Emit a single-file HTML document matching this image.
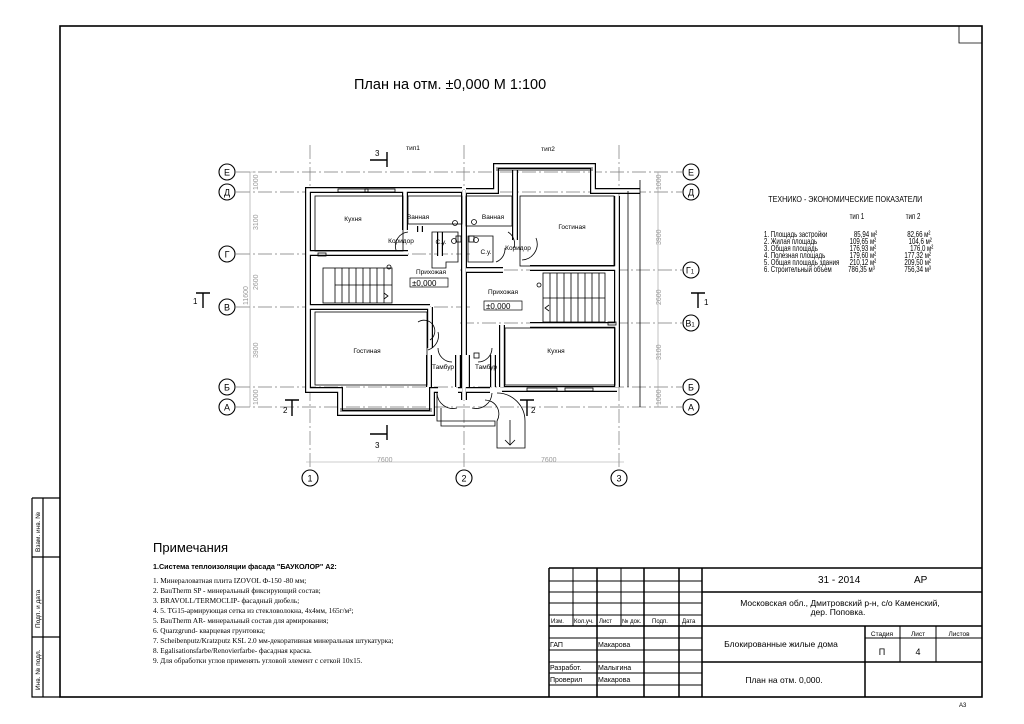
<!DOCTYPE html>
<html><head><meta charset="utf-8">
<style>
html,body{margin:0;padding:0;background:#fff;}
svg{display:block;}
text{font-family:"Liberation Sans",sans-serif;fill:#000;}
.s{font-family:"Liberation Serif",serif;}
.ax{stroke:#777;stroke-width:0.7;stroke-dasharray:14 3 2 3;fill:none;}
.t{stroke:#000;stroke-width:0.8;fill:none;}
.g{stroke:#999;stroke-width:0.6;fill:none;}
.c{fill:#fff;stroke:#000;stroke-width:1.1;}
</style></head><body>
<svg width="1024" height="724" viewBox="0 0 1024 724" xmlns="http://www.w3.org/2000/svg" xmlns:xlink="http://www.w3.org/1999/xlink">
<defs>
<g id="walls">
<path d="M462 190 H308 V390 H340 V413 H432 V390 H438 M462 390 H458"/>
<path d="M466 191 H496 V166 H593 V191 H640 M466 390 H490 M502 389 H617"/>
<path d="M464 190 V400"/>
<path d="M308 253 H408 M308 307 H430 M405 190 V230 M420 226 V232 M440 232 V256 M430 307 V348 M429 355 V387 M458 355 V387"/>
<path d="M515 170 V240 M530 268 H617 M466 270 H503 M530 325 H617 M502 325 V387 M617 196 V387 M493 355 V387 M467 355 V387"/>
</g>
</defs>
<!-- frame -->
<rect x="60" y="26" width="922" height="671" fill="none" stroke="#000" stroke-width="1.6"/>
<path d="M959 26 V43 H982" class="t"/>
<!-- side strip -->
<path d="M32 498 H60 M32 498 V697 H60 M43 498 V697 M32 557 H60 M32 637 H60" fill="none" stroke="#000" stroke-width="1.2"/>
<text font-size="6.5" transform="translate(40,552) rotate(-90)">Взам. инв. №</text>
<text font-size="6.5" transform="translate(40,628) rotate(-90)">Подп. и дата</text>
<text font-size="6.5" transform="translate(40,690) rotate(-90)">Инв. № подл.</text>
<text x="959" y="707" font-size="6">А3</text>

<!-- title -->
<text x="354" y="89" font-size="14.5">План  на отм.  ±0,000   М 1:100</text>

<!-- axes -->
<g class="ax">
<path d="M236 172 H682 M236 192 H682 M236 254 H470 M236 307 H470 M236 387 H682 M236 407 H682"/>
<path d="M460 270 H682 M460 323 H682"/>
<path d="M310 145 V470 M464 145 V470 M619 145 V470"/>
</g>
<path d="M250 172 V407 M244 172 H256 M658 172 V407 M306 462 H624" class="g"/>
<g font-size="7">
<text x="541" y="462" style="fill:#999">7600</text>
<text x="377" y="462" style="fill:#999">7600</text>
<text transform="translate(258,190) rotate(-90)" style="fill:#999">1000</text>
<text transform="translate(258,230) rotate(-90)" style="fill:#999">3100</text>
<text transform="translate(258,290) rotate(-90)" style="fill:#999">2600</text>
<text transform="translate(258,358) rotate(-90)" style="fill:#999">3900</text>
<text transform="translate(258,405) rotate(-90)" style="fill:#999">1000</text>
<text transform="translate(248,305) rotate(-90)" style="fill:#999">11600</text>
<text transform="translate(661,190) rotate(-90)" style="fill:#999">1000</text>
<text transform="translate(661,245) rotate(-90)" style="fill:#999">3900</text>
<text transform="translate(661,305) rotate(-90)" style="fill:#999">2600</text>
<text transform="translate(661,360) rotate(-90)" style="fill:#999">3100</text>
<text transform="translate(661,405) rotate(-90)" style="fill:#999">1000</text>
</g>

<!-- axis bubbles -->
<g font-size="9" text-anchor="middle">
<circle class="c" cx="227" cy="172" r="8"/><text x="227" y="175.5">Е</text>
<circle class="c" cx="227" cy="192" r="8"/><text x="227" y="195.5">Д</text>
<circle class="c" cx="227" cy="254" r="8"/><text x="227" y="257.5">Г</text>
<circle class="c" cx="227" cy="307" r="8"/><text x="227" y="310.5">В</text>
<circle class="c" cx="227" cy="387" r="8"/><text x="227" y="390.5">Б</text>
<circle class="c" cx="227" cy="407" r="8"/><text x="227" y="410.5">А</text>
<circle class="c" cx="691" cy="172" r="8"/><text x="691" y="175.5">Е</text>
<circle class="c" cx="691" cy="192" r="8"/><text x="691" y="195.5">Д</text>
<circle class="c" cx="691" cy="270" r="8"/><text x="690" y="273.5">Г<tspan font-size="6">1</tspan></text>
<circle class="c" cx="691" cy="323" r="8"/><text x="690" y="326.5">В<tspan font-size="6">1</tspan></text>
<circle class="c" cx="691" cy="387" r="8"/><text x="691" y="390.5">Б</text>
<circle class="c" cx="691" cy="407" r="8"/><text x="691" y="410.5">А</text>
<circle class="c" cx="310" cy="478" r="8"/><text x="310" y="481.5">1</text>
<circle class="c" cx="464" cy="478" r="8"/><text x="464" y="481.5">2</text>
<circle class="c" cx="619" cy="478" r="8"/><text x="619" y="481.5">3</text>
</g>

<!-- walls -->
<use xlink:href="#walls" href="#walls" fill="none" stroke="#000" stroke-width="6"/>
<use xlink:href="#walls" href="#walls" fill="none" stroke="#fff" stroke-width="3.6"/>

<g class="t" stroke-width="1.2">
<path d="M640 180 V407 M628 191 V387"/>
<rect x="315" y="196" width="88" height="55"/>
<rect x="315" y="312" width="112" height="73"/>
<rect x="520" y="196" width="94" height="70"/>
<rect x="505" y="328" width="110" height="57"/>
<rect x="408" y="196" width="54" height="28"/>
<rect x="466" y="196" width="46" height="30"/>
<path d="M432 232 H458 V262 H446 V268 H432 Z"/>
<path d="M468 236 H493 V262 H468 Z"/>
<path d="M340 409 H432 M340 411 H432 M496 170 H593 M496 168 H593"/>
<rect x="338" y="189" width="30" height="3"/><rect x="365" y="189" width="30" height="3"/>
<rect x="565" y="388" width="28" height="3"/><rect x="527" y="388" width="30" height="3"/>
<rect x="323" y="268" width="69" height="35"/>
<path d="M335 268 V303 M342 268 V303 M349 268 V303 M356 268 V303 M363 268 V303 M370 268 V303 M377 268 V303 M384 268 V303 M335 285 H392 M384 293 L388 296 L384 299"/>
<circle cx="389" cy="267" r="2"/>
<rect x="543" y="273" width="62" height="49"/>
<path d="M550 273 V322 M557 273 V322 M564 273 V322 M571 273 V322 M578 273 V322 M585 273 V322 M592 273 V322 M599 273 V322 M543 298 H605 M549 305 L545 308 L549 311"/>
<circle cx="539" cy="285" r="2"/>
<rect x="608" y="322" width="8" height="3"/>
<rect x="318" y="253" width="8" height="3"/>
<path d="M408 232 A14 14 0 0 0 396 250 M438 332 A15 15 0 0 1 428 350 M430 340 A10 10 0 0 0 418 322 M438 348 A14 14 0 0 0 452 362 M492 348 A14 14 0 0 1 478 362 M508 232 A14 14 0 0 1 514 248 M505 248 A14 14 0 0 1 496 262 M522 260 A16 16 0 0 0 536 238 M437 393 A16 16 0 0 0 457 408 M492 393 A16 16 0 0 1 472 408"/>
<path d="M437 393 V421 H495 V426 H441 V408 M497 393 A28 28 0 0 1 525 421 V448 H497 V421 A14 14 0 0 0 485 400 M505 440 L510 445 L515 440 M510 420 V445"/>
<circle cx="455" cy="223" r="2.5"/><circle cx="474" cy="222" r="2.5"/><circle cx="454" cy="241" r="2.5"/><circle cx="476" cy="240" r="2.5"/>
<rect x="456" y="236" width="5" height="6"/><rect x="469" y="236" width="5" height="6"/>
<rect x="474" y="353" width="5" height="5"/>
</g>

<!-- room labels -->
<g font-size="6.5" text-anchor="middle">
<text x="353" y="221">Кухня</text>
<text x="418" y="219">Ванная</text>
<text x="493" y="219">Ванная</text>
<text x="572" y="229">Гостиная</text>
<text x="401" y="243">Коридор</text>
<text x="441" y="244">С.у.</text>
<text x="486" y="254">С.у.</text>
<text x="518" y="250">Коридор</text>
<text x="431" y="274">Прихожая</text>
<text x="503" y="294">Прихожая</text>
<text x="367" y="353">Гостиная</text>
<text x="556" y="353">Кухня</text>
<text x="443" y="369">Тамбур</text>
<text x="486" y="369">Тамбур</text>
</g>
<g font-size="8">
<rect x="410" y="278" width="38" height="9" fill="none" stroke="#000" stroke-width="0.7"/>
<text x="412" y="286">±0,000</text>
<rect x="484" y="301" width="38" height="9" fill="none" stroke="#000" stroke-width="0.7"/>
<text x="486" y="309">±0,000</text>
</g>
<g font-size="6.5" text-anchor="middle"><text x="413" y="150">тип1</text><text x="548" y="151">тип2</text></g>

<g stroke="#000" stroke-width="1.4" fill="none">
<path d="M387 152 V167 M370 160 H387"/><path d="M387 425 V440 M370 434 H387"/>
<path d="M196 293 H210 M203 293 V308"/><path d="M691 293 H705 M698 293 V308"/>
<path d="M285 400 H299 M292 400 V416"/><path d="M520 400 H534 M527 400 V416"/>
</g>
<g font-size="8"><text x="375" y="156">3</text><text x="375" y="448">3</text><text x="193" y="304">1</text><text x="704" y="305">1</text><text x="283" y="413">2</text><text x="531" y="413">2</text></g>

<!-- TEP table -->
<g font-size="8.5" transform="scale(0.72,1)">
<text x="1067" y="202" textLength="214" lengthAdjust="spacingAndGlyphs">ТЕХНИКО - ЭКОНОМИЧЕСКИЕ ПОКАЗАТЕЛИ</text>
<text x="1180" y="219">тип 1</text><text x="1258" y="219">тип 2</text>
<text x="1061" y="237">1. Площадь застройки</text><text x="1186" y="237">85,94 м²</text><text x="1260" y="237">82,66 м²</text>
<text x="1061" y="244">2. Жилая площадь</text><text x="1180" y="244">109,65 м²</text><text x="1262" y="244">104,6 м²</text>
<text x="1061" y="251">3. Общая площадь</text><text x="1180" y="251">176,93 м²</text><text x="1264" y="251">176,0 м²</text>
<text x="1061" y="258">4. Полезная площадь</text><text x="1180" y="258">179,60 м²</text><text x="1256" y="258">177,32 м²</text>
<text x="1061" y="265">5. Общая площадь здания</text><text x="1180" y="265">210,12 м²</text><text x="1256" y="265">209,50 м²</text>
<text x="1061" y="272">6. Строительный объем</text><text x="1178" y="272">786,35 м³</text><text x="1256" y="272">756,34 м³</text>
</g>

<!-- notes -->
<text x="153" y="552" font-size="13">Примечания</text>
<text x="153" y="569" font-size="7.2" font-weight="bold">1.Система теплоизоляции фасада "БАУКОЛОР" А2:</text>
<g font-size="7.3">
<text class="s" x="153" y="583">1. Минераловатная плита IZOVOL Ф-150   -80 мм;</text>
<text class="s" x="153" y="593">2. BauTherm SP -  минеральный фиксирующий состав;</text>
<text class="s" x="153" y="603">3. BRAVOLL/TERMOCLIP- фасадный дюбель;</text>
<text class="s" x="153" y="613">4. 5. TG15-армирующая сетка из стекловолокна, 4х4мм, 165г/м²;</text>
<text class="s" x="153" y="623">5. BauTherm AR- минеральный состав для армирования;</text>
<text class="s" x="153" y="633">6. Quarzgrund- кварцевая грунтовка;</text>
<text class="s" x="153" y="643">7. Scheibenputz/Kratzputz KSL 2.0 мм-декоративная минеральная штукатурка;</text>
<text class="s" x="153" y="653">8. Egalisationsfarbe/Renovierfarbe- фасадная краска.</text>
<text class="s" x="153" y="663">9. Для обработки углов применять угловой элемент с сеткой 10х15.</text>
</g>

<!-- title block -->
<g fill="none" stroke="#000">
<path stroke-width="1.5" d="M549 568 H982 M549 568 V697 M702 568 V697 M597 568 V697 M644 568 V697 M679 568 V697 M549 626 H982 M702 592 H982 M702 662 H982 M865 626 V697"/>
<path stroke-width="1" d="M573 568 V626 M621 568 V626 M549 581 H702 M549 592 H702 M549 603 H702 M549 615 H702 M549 638 H702 M549 650 H702 M549 662 H702 M549 673 H702 M549 685 H702 M900 626 V662 M936 626 V662 M865 638 H982"/>
</g>
<g font-size="6">
<text x="551" y="623">Изм.</text><text x="574" y="623">Кол.уч.</text><text x="599" y="623">Лист</text><text x="622" y="623">№ док.</text><text x="652" y="623">Подп.</text><text x="682" y="623">Дата</text>
</g>
<g font-size="7">
<text x="550" y="647">ГАП</text><text x="598" y="647">Макарова</text>
<text x="550" y="670">Разработ.</text><text x="598" y="670">Малыгина</text>
<text x="550" y="682">Проверил</text><text x="598" y="682">Макарова</text>
</g>
<text x="818" y="583" font-size="10">31 - 2014</text><text x="914" y="583" font-size="10">АР</text>
<text x="840" y="606" font-size="8.5" text-anchor="middle">Московская обл., Дмитровский р-н, с/о Каменский,</text>
<text x="838" y="615" font-size="8.5" text-anchor="middle">дер. Поповка.</text>
<text x="781" y="647" font-size="8.5" text-anchor="middle">Блокированные жилые дома</text>
<text x="784" y="683" font-size="8.5" text-anchor="middle">План на отм. 0,000.</text>
<g font-size="6.5" text-anchor="middle"><text x="882" y="636">Стадия</text><text x="918" y="636">Лист</text><text x="959" y="636">Листов</text></g>
<g font-size="9" text-anchor="middle"><text x="882" y="655">П</text><text x="918" y="655">4</text></g>
</svg>
</body></html>
